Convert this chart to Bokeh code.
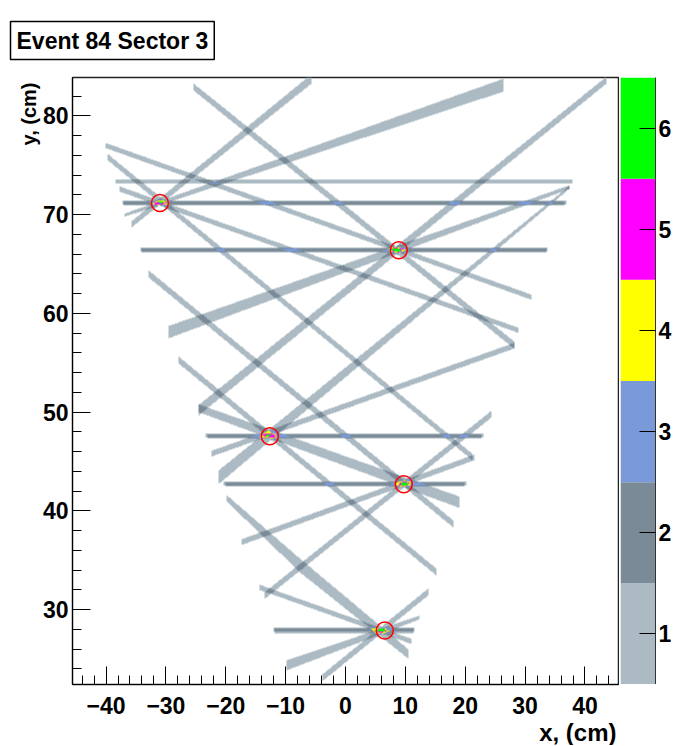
import numpy as np
from bokeh.plotting import figure
from bokeh.layouts import row
from bokeh.models import (LinearColorMapper, FixedTicker, Range1d, Title)
from bokeh.embed import file_html
from bokeh.resources import INLINE

# ---------------- data ----------------
title_text = "Event 84 Sector 3"
x_title = "x, (cm)"
y_title = "y, (cm)"

x_lo, x_hi = -45.6, 45.6
y_lo, y_hi = 22.43, 83.88
x_major = [-40, -30, -20, -10, 0, 10, 20, 30, 40]
y_major = [30, 40, 50, 60, 70, 80]
z_ticks = [1, 2, 3, 4, 5, 6]

# reconstructed hit positions (cm)
hit_x = [-31.0, 8.9, -12.64, 9.73, 6.56]
hit_y = [71.17, 66.40, 47.56, 42.70, 27.90]

# horizontal strips: centre y, x start, x end, thickness (cm)
h_y = [73.34, 71.23, 71.11, 66.46, 66.34, 47.62, 47.50, 42.76, 42.64, 27.96, 27.84]
h_x0 = [-38.5, -37.3, -37.0, -34.3, -34.0, -23.4, -23.1, -20.4, -20.1, -12.0, -11.8]
h_x1 = [37.99, 36.9, 36.6, 33.8, 33.5, 23.0, 22.7, 20.2, 19.9, 11.57, 11.3]
h_w = [0.48, 0.43, 0.43, 0.43, 0.43, 0.43, 0.43, 0.43, 0.43, 0.43, 0.43]

# inclined strips: id, end points (cm), thickness at each end (cm)
d_id = ["a", "A", "B", "C", "D", "E", "F", "G", "H", "I", "J", "K", "L",
        "M", "M", "N", "O", "P", "Q", "R"]
d_x0 = [-25.38, -40.13, -39.73, -37.68, 43.57, -29.55, 28.26, -21.2, -24.54,
        -32.89, -27.83, 24.37, -17.31, -19.82, -7.63, -14.31, -3.79, -9.85,
        -35.68, -36.85]
d_y0 = [82.92, 77.01, 75.83, 72.58, 83.6, 58.10, 56.75, 43.40, 50.40, 64.0,
        55.26, 49.8, 36.85, 41.28, 34.49, 32.26, 23.14, 24.36, 69.04, 69.95]
d_x1 = [28.26, 31.05, 21.25, 28.96, -24.54, 37.45, -22.32, 37.45, 19.08, 17.96,
        15.19, -13.47, 21.58, -7.63, 10.45, 11.02, 13.79, 12.4, -5.63, 26.31]
d_y1 = [56.75, 61.64, 45.43, 58.27, 50.19, 72.79, 45.81, 72.79, 40.87, 38.71,
        33.81, 31.45, 45.43, 34.49, 25.54, 26.79, 31.78, 29.22, 83.76, 83.09]
d_w0 = [0.72, 0.52, 0.64, 0.52, 0.70, 1.25, 0.58, 1.38, 0.80, 0.72, 0.70, 0.70,
        0.58, 0.62, 1.40, 0.52, 0.70, 1.02, 0.62, 0.32]
d_w1 = [0.72, 0.52, 0.64, 0.52, 1.05, 0.38, 0.58, 0.30, 1.15, 0.72, 0.70, 0.70,
        0.58, 1.40, 0.95, 0.52, 0.70, 0.38, 0.95, 1.30]

palette = ["#abbac3", "#7a8b97", "#7a99d8", "#ffff00", "#ff00ff", "#00ff00"]

# ---------------- layout constants (pixels) ----------------
FW, FH = 546, 607          # frame size
FL, FT = 72, 77            # frame left / top on the canvas

# ---------------- hit-count map ----------------
nx, ny = FW, FH
dx = (x_hi - x_lo) / nx
dy = (y_hi - y_lo) / ny
xs = x_lo + (np.arange(nx) + 0.5) * dx
ys = y_lo + (np.arange(ny) + 0.5) * dy
X, Y = np.meshgrid(xs, ys)


def strip_mask(x0, y0, x1, y1, w0, w1):
    t = (X - x0) / (x1 - x0)
    yl = y0 + t * (y1 - y0)
    w = w0 + t * (w1 - w0)
    return (t >= 0) & (t <= 1) & (np.abs(Y - yl) <= w / 2)


counts = np.zeros((ny, nx))
for yc, xa, xb, w in zip(h_y, h_x0, h_x1, h_w):
    counts += strip_mask(xa, yc, xb, yc, w, w)
masks = {}
for sid, xa, ya, xb, yb, wa, wb in zip(d_id, d_x0, d_y0, d_x1, d_y1, d_w0, d_w1):
    m = strip_mask(xa, ya, xb, yb, wa, wb)
    masks[sid] = masks[sid] | m if sid in masks else m
for m in masks.values():
    counts += m
counts[counts == 0] = np.nan


def try_set(obj, name, *vals):
    for v in vals:
        try:
            setattr(obj, name, v)
            return True
        except Exception:
            continue
    return False


# ---------------- main figure ----------------
FONT = "Liberation Sans"

p = figure(frame_width=FW, frame_height=FH,
           x_range=Range1d(x_lo, x_hi), y_range=Range1d(y_lo, y_hi),
           min_border_left=FL, min_border_top=FT, min_border_bottom=0,
           min_border_right=1,
           toolbar_location=None, output_backend="svg",
           background_fill_color="white", border_fill_color="white")
p.grid.visible = False
p.outline_line_color = "#222222"
p.outline_line_width = 1.5

mapper = LinearColorMapper(palette=palette, low=0.5, high=6.5,
                           nan_color=(0, 0, 0, 0))
p.image(image=[counts], x=x_lo, y=y_lo, dw=x_hi - x_lo, dh=y_hi - y_lo,
        color_mapper=mapper)

p.scatter(hit_x, hit_y, marker="circle", size=17, fill_color=None,
          line_color="red", line_width=1.5)

for ax in (p.xaxis[0], p.yaxis[0]):
    ax.major_tick_in = 18
    ax.major_tick_out = 0
    ax.minor_tick_in = 9
    ax.minor_tick_out = 0
    ax.major_tick_line_color = "black"
    ax.minor_tick_line_color = "black"
    ax.axis_line_color = "black"
    ax.major_label_text_font = FONT
    ax.major_label_text_font_style = "bold"
    ax.major_label_text_font_size = "23px"
    ax.major_label_text_color = "black"

p.xaxis.ticker = FixedTicker(ticks=x_major, minor_ticks=list(range(-44, 46, 2)))
p.yaxis.ticker = FixedTicker(ticks=y_major, minor_ticks=list(range(24, 84, 2)))
p.xaxis.major_label_standoff = 12
p.yaxis.major_label_standoff = 4

# axis titles as side-panel titles (right/top aligned like ROOT)
xt = Title(text=x_title, align="right", offset=2, standoff=0,
           text_font=FONT, text_font_style="bold", text_font_size="24px",
           text_color="black")
p.add_layout(xt, "below")
yt = Title(text=y_title, align="right", offset=5, standoff=0,
           text_font=FONT, text_font_style="bold", text_font_size="20px",
           text_color="black")
p.add_layout(yt, "left")

t = Title(text=title_text, align="left", offset=-62,
          text_font=FONT, text_font_style="bold", text_font_size="23px",
          text_color="black", standoff=36,
          background_fill_color="white", border_line_color="black",
          border_line_width=1.5)
try_set(t, "padding", 6)
p.add_layout(t, "above")

# ---------------- colour scale (palette bar) ----------------
z_lo = [z - 0.5 for z in z_ticks]
z_hi = [z + 0.5 for z in z_ticks]

cb = figure(frame_width=35, frame_height=FH,
            x_range=Range1d(0, 1), y_range=Range1d(z_lo[0], z_hi[-1]),
            min_border_left=1, min_border_top=FT, min_border_bottom=0,
            min_border_right=2, y_axis_location="right",
            toolbar_location=None, output_backend="svg",
            background_fill_color="white", border_fill_color="white")
cb.quad(left=0, right=1, bottom=z_lo, top=z_hi, fill_color=palette,
        line_color=None)
cb.grid.visible = False
cb.outline_line_color = None
cb.xaxis.visible = False
cy = cb.yaxis[0]
cy.ticker = FixedTicker(ticks=z_ticks, minor_ticks=[])
cy.major_tick_in = 16
cy.major_tick_out = 0
cy.minor_tick_in = 0
cy.minor_tick_out = 0
cy.major_tick_line_color = "black"
cy.axis_line_color = "#333333"
cy.major_label_text_font = FONT
cy.major_label_text_font_style = "bold"
cy.major_label_text_font_size = "23px"
cy.major_label_text_color = "black"
cy.major_label_standoff = 3

layout = row(p, cb, spacing=0)
open("out.html", "w").write(file_html(layout, INLINE))
